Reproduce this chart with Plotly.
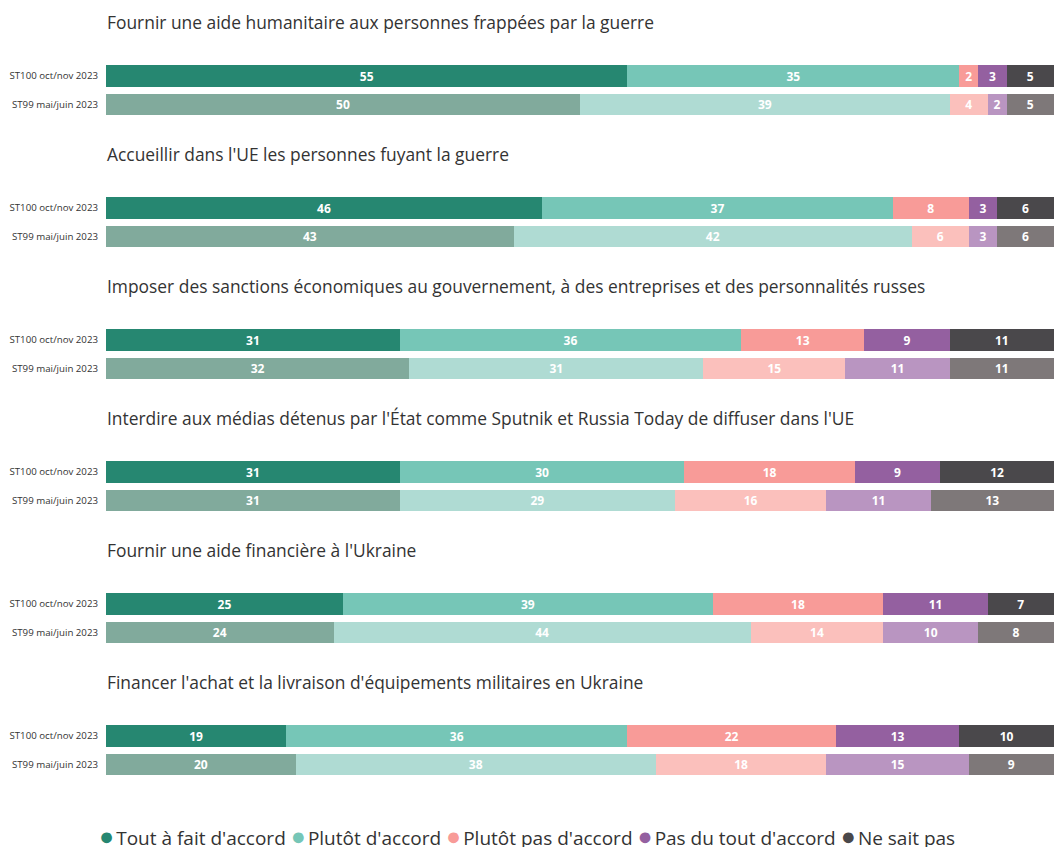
import plotly.graph_objects as go

W, H = 1054, 847

titles = [
    "Fournir une aide humanitaire aux personnes frappées par la guerre",
    "Accueillir dans l'UE les personnes fuyant la guerre",
    "Imposer des sanctions économiques au gouvernement, à des entreprises et des personnalités russes",
    "Interdire aux médias détenus par l'État comme Sputnik et Russia Today de diffuser dans l'UE",
    "Fournir une aide financière à l'Ukraine",
    "Financer l'achat et la livraison d'équipements militaires en Ukraine",
]
waves = ["ST100 oct/nov 2023", "ST99 mai/juin 2023"]
responses = ["Tout à fait d'accord", "Plutôt d'accord", "Plutôt pas d'accord",
             "Pas du tout d'accord", "Ne sait pas"]

st100 = [
    [55, 35, 2, 3, 5],
    [46, 37, 8, 3, 6],
    [31, 36, 13, 9, 11],
    [31, 30, 18, 9, 12],
    [25, 39, 18, 11, 7],
    [19, 36, 22, 13, 10],
]
st99 = [
    [50, 39, 4, 2, 5],
    [43, 42, 6, 3, 6],
    [32, 31, 15, 11, 11],
    [31, 29, 16, 11, 13],
    [24, 44, 14, 10, 8],
    [20, 38, 18, 15, 9],
]

colors_100 = ["#268771", "#76c6b7", "#f89b98", "#9460a0", "#4a484b"]
colors_99 = ["#81aa9c", "#afdbd3", "#fbc0bc", "#b995c1", "#7e7879"]


def px_x(x):
    return x / W


def px_y(y):
    return 1 - y / H


fig = go.Figure()
layout = {}
annotations = []

for i in range(6):
    ax = "" if i == 0 else str(i + 1)
    for j, resp in enumerate(responses):
        vals = [st100[i][j], st99[i][j]]
        fig.add_trace(go.Bar(
            y=waves, x=vals, orientation="h",
            name=resp, showlegend=False,
            marker=dict(color=[colors_100[j], colors_99[j]], line=dict(width=0)),
            text=[str(v) for v in vals],
            textposition="inside", insidetextanchor="middle", textangle=0,
            constraintext="none",
            textfont=dict(family="Open Sans", size=12, color="white", weight="bold"),
            xaxis="x" + ax, yaxis="y" + ax,
            hoverinfo="x+name",
        ))
    top = 61.75 + 132 * i
    bot = 118.75 + 132 * i
    layout["xaxis" + ax] = dict(domain=[px_x(106), 1], range=[0, 100], visible=False,
                                 anchor="y" + ax, fixedrange=True)
    layout["yaxis" + ax] = dict(domain=[px_y(bot), px_y(top)], anchor="x" + ax,
                                 type="category", autorange="reversed",
                                 showline=False, showgrid=False, ticks="",
                                 ticklabelstandoff=7,
                                 tickfont=dict(family="Open Sans", size=9.7, color="#333"))
    annotations.append(dict(
        text=titles[i], xref="paper", yref="paper", x=px_x(105), y=px_y(22 + 132 * i),
        xanchor="left", yanchor="middle", showarrow=False,
        font=dict(family="Open Sans", size=17.4, color="#333"),
    ))

legend_parts = []
for j, resp in enumerate(responses):
    legend_parts.append(
        f"<span style='color:{colors_100[j]};font-size:25px'>●</span>"
        f"<span style='font-size:8px'> </span>{resp}"
    )
annotations.append(dict(
    text=" ".join(legend_parts), xref="paper", yref="paper",
    x=px_x(97), y=px_y(835), xanchor="left", yanchor="middle", showarrow=False,
    font=dict(family="Open Sans", size=19, color="#333"),
))

fig.update_layout(
    **layout,
    barmode="stack", bargap=0.23,
    width=W, height=H,
    margin=dict(l=0, r=0, t=0, b=0),
    paper_bgcolor="white", plot_bgcolor="white",
    annotations=annotations,
)

# drop the default page margin so the figure sits at the window's corner
fig.write_html("out.html", config={"displayModeBar": False},
               post_script="document.body.style.margin='0';")
